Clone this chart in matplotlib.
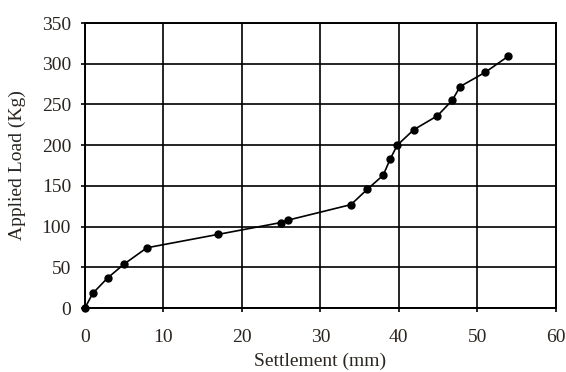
import matplotlib
matplotlib.use('Agg')
import matplotlib.pyplot as plt

# settlement (mm) vs applied load (kg)
settlement = [0, 1.0, 2.9, 5.0, 7.9, 17.0, 25.0, 25.9, 33.9, 36.0, 38.0, 38.9,
              39.8, 41.9, 44.9, 46.8, 47.8, 51.0, 53.9]
load = [0, 18, 37, 54, 74, 90.5, 105, 108, 127, 146, 163, 183,
        200, 219, 236, 255, 272, 289.5, 309]

x_ticks = [0, 10, 20, 30, 40, 50, 60]
y_ticks = [0, 50, 100, 150, 200, 250, 300, 350]

plt.rcParams['font.family'] = ['Liberation Serif', 'DejaVu Serif']

fig = plt.figure(figsize=(5.66, 3.72), dpi=100)
ax = fig.add_axes([0.150, 0.172, 0.832, 0.766])

ax.plot(settlement, load, color='black', lw=1.2, marker='o', ms=5,
        zorder=3, clip_on=False)

ax.set_xlim(0, 60)
ax.set_ylim(0, 350)
ax.set_xticks(x_ticks)
ax.set_yticks(y_ticks)
ax.grid(True, color='black', lw=1.2)
ax.set_axisbelow(True)
for s in ax.spines.values():
    s.set_color('black')
    s.set_linewidth(1.4)

ax.tick_params(direction='out', length=3, width=1.2, colors='black',
               labelsize=14, labelcolor='#2a2520')
ax.tick_params(axis='x', pad=12)
ax.tick_params(axis='y', pad=7)

ax.set_xlabel('Settlement (mm)', fontsize=14, color='#2a2520', labelpad=5)
ax.set_ylabel('Applied Load (Kg)', fontsize=14, color='#2a2520', labelpad=11)

fig.savefig('out.png', dpi=100)
